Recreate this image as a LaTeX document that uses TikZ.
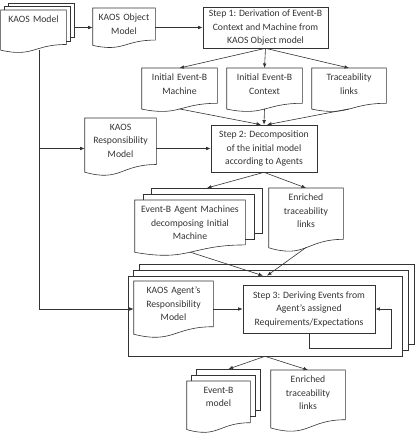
\documentclass[tikz,border=0pt]{standalone}
\usepackage{fontspec}
\setmainfont{Carlito}
\usetikzlibrary{arrows.meta,calc,positioning}

\begin{document}
\begin{tikzpicture}[
  x=1pt, y=-1pt,
  line width=0.6pt,
  color=black!80,
  >={Latex[length=4.5pt,width=3.6pt]},
  doc node/.style={anchor=north, align=center, inner xsep=2pt, inner ysep=5.5pt,
    font=\fontsize{9.7}{13.5}\selectfont},
  step node/.style={draw, align=center, inner sep=2pt,
    font=\fontsize{9.7}{13.5}\selectfont},
]
  \useasboundingbox (0,0) rectangle (416,437);

  % Outline of a document around node #1, #2 = depth of the sheet
  \newcommand*{\DocOutline}[2]{%
    \draw (#1.north west) -- (#1.north east)
      -- ($(#1.north east)+(0,0.802*#2)$)
      .. controls ($(#1.north)+(0,0.802*#2)$) and ($(#1.north)+(0,1.1075*#2)$)
      .. ($(#1.north west)+(0,0.934*#2)$) -- cycle;
    \coordinate (#1-b) at ($(#1.north)+(0,0.93*#2)$);
  }
  % Two sheets behind node #1: #2 = right edge depth, #3/#4 = shift
  \newcommand*{\SheetsBehind}[4]{%
    \foreach \k in {1,2} {
      \draw ($(#1.north west)+({\k*#3},{-(\k-1)*#4})$) -- ++(0,-#4)
        -- ($(#1.north east)+({\k*#3},{-\k*#4})$) -- ++(0,#2) -- ++(-#3,0);
    }
    \coordinate (#1-t) at ($(#1.north)+({2*#3},{-2*#4})$);
    \coordinate (#1-r) at ($(#1.north east)+({2*#3},0)$);
  }

  % Top row
  \node[doc node, text width=61pt] (kaos) at (33.5,10) {KAOS Model};
  \DocOutline{kaos}{43}
  \SheetsBehind{kaos}{0.802*43}{4}{3.5}

  \node[doc node, text width=58pt] (kobj) at (124,8) {KAOS Object\\Model};
  \DocOutline{kobj}{40}

  \node[step node, minimum width=125pt, minimum height=41pt] (step1) at (265.5,27.5)
    {Step 1: Derivation of Event-B\\Context and Machine from\\KAOS Object model};

  % Results of step 1
  \node[doc node, text width=71pt] (mach) at (179.5,68) {Initial Event-B\\Machine};
  \DocOutline{mach}{44}
  \node[doc node, text width=71pt] (ctx) at (264.5,68) {Initial Event-B\\Context};
  \DocOutline{ctx}{44}
  \node[doc node, text width=70pt] (trc) at (349,68) {Traceability\\links};
  \DocOutline{trc}{44}

  % Step 2
  \node[doc node, text width=67pt] (kresp) at (120.5,118) {KAOS\\Responsibility\\Model};
  \DocOutline{kresp}{58}

  \node[step node, minimum width=106pt, minimum height=47pt] (step2) at (264,148.5)
    {Step 2: Decomposition\\of the initial model\\according to Agents};

  \node[doc node, text width=106pt] (amach) at (190,200)
    {Event-B Agent Machines\\decomposing Initial\\Machine};
  \DocOutline{amach}{56}
  \SheetsBehind{amach}{0.802*56}{8.5}{6}

  \node[doc node, text width=70pt] (etr1) at (306,188) {Enriched\\traceability\\links};
  \DocOutline{etr1}{64}

  % Step 3, repeated for every agent
  \node[draw, minimum width=274pt, minimum height=80pt, inner sep=0pt] (grp) at (265,316) {};
  \SheetsBehind{grp}{80}{6}{5.5}

  \node[doc node, text width=75pt] (kar) at (173.5,281) {KAOS Agent's\\Responsibility\\Model};
  \DocOutline{kar}{57}

  \node[step node, minimum width=132pt, minimum height=48pt] (step3) at (309,309)
    {Step 3: Deriving Events from\\Agent's assigned\\Requirements/Expectations};

  \node[doc node, text width=59pt] (ebm) at (218.5,381) {Event-B\\model};
  \DocOutline{ebm}{52}
  \SheetsBehind{ebm}{0.802*52}{5}{6}

  \node[doc node, text width=70pt] (etr2) at (308,370) {Enriched\\traceability\\links};
  \DocOutline{etr2}{62}

  % Connectors
  \coordinate (bend) at (39,309);
  \coordinate (loop) at (391,348);

  \draw[->] (kaos-r |- step1.west) -- (kobj.west |- step1.west);
  \draw[->] (kobj.east |- step1.west) -- (step1.west);
  \foreach \n in {mach,ctx,trc}
    \draw[->] (step1.south) -- (\n.north);
  \draw[->] (mach-b) -- ([xshift=-3pt]step2.north);
  \draw[->] (ctx-b) -- (step2.north);
  \draw[->] (trc-b) -- ([xshift=3pt]step2.north);

  \draw[->] (bend |- kaos-b) -- (bend) -- (bend -| kar.west);
  \draw[->] (bend |- step2.west) -- (kresp.west |- step2.west);
  \draw[->] (kresp.east |- step2.west) -- (step2.west);

  \draw[->] (step2.south) -- (amach-t);
  \draw[->] (step2.south) -- (etr1.north);
  \draw[->] (amach-b) -- ([xshift=-2pt]grp.north);
  \draw[->] (etr1-b) -- ([xshift=2pt]grp.north);

  \draw[->] (kar.east |- step3.west) -- (step3.west);
  \draw[->] (step3.south) |- (loop) |- (step3.east);

  \draw[->] (grp.south) -- (ebm-t);
  \draw[->] (grp.south) -- (etr2.north);

\end{tikzpicture}
\end{document}
